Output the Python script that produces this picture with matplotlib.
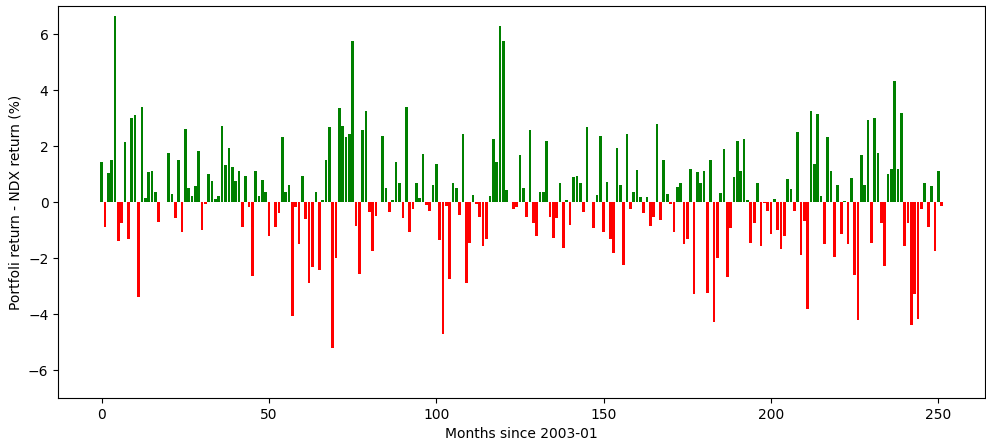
# Monthly excess return of portfolio vs NDX

import numpy as np
import matplotlib.pyplot as plt

# ============================================================
# DATA (portfolio return - NDX return, %, one value per month)
# ============================================================

excess_return = [
    1.45, -0.88, 1.04, 1.49, 6.64, -1.39, -0.74, 2.14, -1.33, 3.0, 3.1, -3.38,
    3.4, 0.14, 1.07, 1.1, 0.38, -0.7, 0.0, 0.02, 1.76, 0.29, -0.57, 1.52,
    -1.08, 2.63, 0.49, 0.21, 0.57, 1.82, -0.99, -0.08, 1.01, 0.77, 0.11, 0.21,
    2.73, 1.32, 1.93, 1.25, 0.77, 1.11, -0.88, 0.94, -0.17, -2.63, 1.13, 0.21,
    0.79, 0.36, -1.19, 0.0, -0.88, -0.38, 2.31, 0.37, 0.6, -4.06, -0.17, -1.51,
    0.93, -0.6, -2.9, -2.31, 0.38, -2.43, 0.07, 1.52, 2.69, -5.2, -2.01, 3.35,
    2.71, 2.32, 2.45, 5.75, -0.85, -2.55, 2.56, 3.24, -0.36, -1.74, -0.48, 0.0,
    2.38, 0.49, -0.36, 0.06, 1.42, 0.69, -0.56, 3.4, -1.08, -0.25, 0.69, 0.14,
    1.73, -0.11, -0.32, 0.6, 1.38, -1.36, -4.71, -0.14, -2.76, 0.69, 0.49, -0.46,
    2.45, -2.88, -1.46, 0.25, -0.06, -0.54, -1.56, -1.33, 0.21, 2.24, 1.45, 6.3,
    5.77, 0.45, 0.0, -0.23, -0.17, 1.67, 0.49, -0.54, 2.56, -0.74, -1.21, 0.38,
    0.35, 2.2, -0.54, -1.29, -0.56, 0.69, -1.63, 0.07, -0.81, 0.89, 0.93, 0.69,
    -0.36, 2.68, 0.02, -0.92, 0.24, 2.35, -1.08, 0.73, -1.32, -1.8, 1.93, 0.6,
    -2.25, 2.45, -0.23, 0.38, 1.14, 0.18, -0.37, 0.18, -0.85, -0.54, 2.79, -0.64,
    1.49, 0.29, -0.06, -1.08, 0.55, 0.69, -1.51, -1.32, 1.2, -3.29, 1.07, 0.69,
    1.13, -3.23, 1.52, -4.29, -2.01, 0.31, 1.89, -2.67, -0.92, 0.89, 2.17, 1.13,
    2.27, 0.07, -1.46, -0.74, 0.67, -1.56, -0.04, -0.32, -1.15, 0.1, -0.98, -1.67,
    -1.21, 0.82, 0.48, -0.32, 2.51, -1.87, -0.67, -3.83, 3.24, 1.38, 3.15, 0.21,
    -1.5, 2.31, 1.1, -1.95, 0.6, -1.15, 0.04, -1.5, 0.86, -2.6, -4.21, 1.69,
    0.63, 2.93, -1.46, 3.0, 1.75, -0.74, -2.29, 1.0, 1.2, 4.33, 1.2, 3.19,
    -1.56, -0.74, -4.37, -3.29, -4.18, -0.23, 0.67, -0.88, 0.56, -1.74, 1.11, -0.13,
]

months = np.arange(len(excess_return))
colors = ['green' if v > 0 else 'red' for v in excess_return]

# ============================================================
# PLOT
# ============================================================

fig = plt.figure(figsize=(9.87, 4.4), dpi=100)
plt.subplots_adjust(left=0.059, right=0.998, top=0.986, bottom=0.095)
plt.bar(months, excess_return, color=colors)
plt.ylim(-7, 7)
plt.xlabel("Months since 2003-01")
plt.ylabel("Portfoli return - NDX return (%)")
plt.savefig("out.png", dpi=100)
